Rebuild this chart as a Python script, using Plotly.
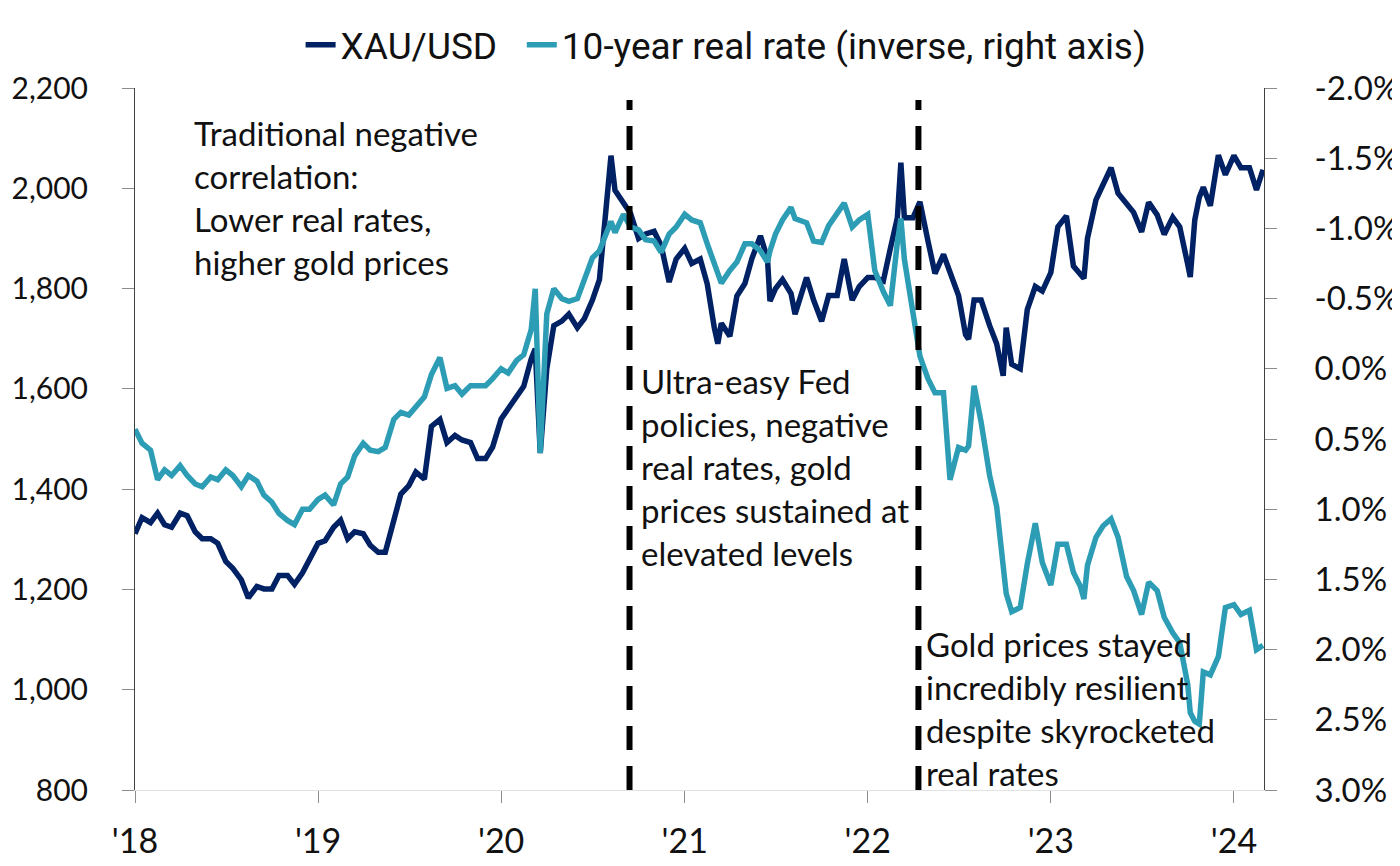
import plotly.graph_objects as go

# semi-monthly readings (plus a few turning points)
DATES = [
    "2018-01-01", "2018-01-15", "2018-02-01", "2018-02-15", "2018-03-01", "2018-03-15",
    "2018-04-01", "2018-04-15", "2018-05-01", "2018-05-15", "2018-06-01", "2018-06-15",
    "2018-07-01", "2018-07-15", "2018-08-01", "2018-08-15", "2018-09-01", "2018-09-15",
    "2018-10-01", "2018-10-15", "2018-11-01", "2018-11-15", "2018-12-01", "2018-12-15",
    "2019-01-01", "2019-01-15", "2019-02-01", "2019-02-15", "2019-03-01", "2019-03-15",
    "2019-04-01", "2019-04-15", "2019-05-01", "2019-05-15", "2019-06-01", "2019-06-15",
    "2019-07-01", "2019-07-15", "2019-08-01", "2019-08-15", "2019-09-01", "2019-09-15",
    "2019-10-01", "2019-10-15", "2019-11-01", "2019-11-15", "2019-12-01", "2019-12-15",
    "2020-01-01", "2020-01-15", "2020-02-01", "2020-02-15", "2020-03-01", "2020-03-09",
    "2020-03-19", "2020-04-01", "2020-04-15", "2020-05-01", "2020-05-15", "2020-06-01",
    "2020-06-15", "2020-07-01", "2020-07-15", "2020-08-01", "2020-08-07", "2020-08-15",
    "2020-09-01", "2020-09-15", "2020-10-01", "2020-10-15", "2020-11-01", "2020-11-15",
    "2020-12-01", "2020-12-15",
    "2021-01-01", "2021-01-15", "2021-02-01", "2021-02-15", "2021-03-01", "2021-03-08",
    "2021-03-15", "2021-04-01", "2021-04-15", "2021-05-01", "2021-05-15", "2021-06-01",
    "2021-06-15", "2021-06-20", "2021-07-01", "2021-07-15", "2021-08-01", "2021-08-09",
    "2021-08-15", "2021-09-01", "2021-09-15", "2021-10-01", "2021-10-15", "2021-11-01",
    "2021-11-15", "2021-12-01", "2021-12-15",
    "2022-01-01", "2022-01-15", "2022-02-01", "2022-02-15", "2022-03-01", "2022-03-08",
    "2022-03-15", "2022-04-01", "2022-04-15", "2022-05-01", "2022-05-15", "2022-06-01",
    "2022-06-14", "2022-07-01", "2022-07-15", "2022-07-21", "2022-08-01", "2022-08-15",
    "2022-09-01", "2022-09-15", "2022-09-28", "2022-10-04", "2022-10-15", "2022-11-01",
    "2022-11-15", "2022-12-01", "2022-12-15",
    "2023-01-01", "2023-01-15", "2023-02-01", "2023-02-15", "2023-03-01", "2023-03-08",
    "2023-03-15", "2023-04-01", "2023-04-15", "2023-05-01", "2023-05-15", "2023-06-01",
    "2023-06-15", "2023-07-01", "2023-07-15", "2023-08-01", "2023-08-15", "2023-09-01",
    "2023-09-15", "2023-10-01", "2023-10-06", "2023-10-15", "2023-10-24", "2023-11-01",
    "2023-11-15", "2023-12-01", "2023-12-15",
    "2024-01-01", "2024-01-15", "2024-02-01", "2024-02-15", "2024-02-28",
]

XAU_USD = [
    1311, 1343, 1333, 1352, 1329, 1324, 1352, 1347, 1315, 1301, 1301, 1292,
    1256, 1242, 1219, 1183, 1206, 1201, 1201, 1228, 1228, 1210, 1233, 1260,
    1292, 1297, 1324, 1338, 1301, 1315, 1311, 1288, 1274, 1274, 1338, 1390,
    1407, 1434, 1420, 1525, 1539, 1493, 1507, 1498, 1493, 1461, 1461, 1484,
    1540, 1560, 1587, 1605, 1660, 1680, 1472, 1640, 1726, 1735, 1749, 1722,
    1740, 1777, 1818, 1990, 2065, 1996, 1973, 1950, 1900, 1909, 1914, 1886,
    1813, 1859,
    1880, 1850, 1859, 1809, 1722, 1690, 1731, 1705, 1785, 1810, 1860, 1905,
    1860, 1775, 1800, 1818, 1790, 1749, 1768, 1822, 1777, 1735, 1786, 1786,
    1859, 1777, 1804,
    1822, 1822, 1815, 1880, 1941, 2051, 1941, 1941, 1973, 1895, 1830, 1868,
    1830, 1786, 1708, 1699, 1777, 1777, 1726, 1690, 1626, 1722, 1649, 1640,
    1758, 1804, 1795,
    1832, 1923, 1945, 1845, 1827, 1820, 1900, 1977, 2007, 2041, 1990, 1967,
    1952, 1913, 1972, 1947, 1908, 1942, 1923, 1848, 1823, 1937, 1982, 2002,
    1965, 2066, 2027,
    2065, 2041, 2041, 1997, 2037,
]

REAL_RATE = [
    0.43, 0.53, 0.58, 0.79, 0.72, 0.76, 0.69, 0.76, 0.82, 0.84, 0.77, 0.79,
    0.72, 0.76, 0.84, 0.76, 0.80, 0.90, 0.95, 1.03, 1.08, 1.11, 1.00, 1.00,
    0.93, 0.90, 0.97, 0.82, 0.77, 0.62, 0.53, 0.58, 0.59, 0.56, 0.36, 0.31,
    0.33, 0.27, 0.20, 0.04, -0.08, 0.14, 0.12, 0.18, 0.12, 0.12, 0.12, 0.07,
    0.00, 0.03, -0.06, -0.10, -0.28, -0.57, 0.60, -0.39, -0.57, -0.50, -0.48, -0.50,
    -0.63, -0.79, -0.84, -1.00, -1.05, -0.97, -1.10, -1.01, -0.99, -0.92, -0.91, -0.83,
    -0.96, -1.01,
    -1.10, -1.06, -1.04, -0.89, -0.75, -0.68, -0.61, -0.70, -0.76, -0.89, -0.89, -0.84,
    -0.76, -0.84, -0.96, -1.06, -1.15, -1.07, -1.06, -1.04, -0.91, -0.90, -1.02, -1.11,
    -1.18, -1.01, -1.06,
    -1.10, -0.70, -0.55, -0.45, -0.90, -1.07, -0.78, -0.42, -0.09, 0.07, 0.17, 0.17,
    0.79, 0.56, 0.58, 0.55, 0.12, 0.38, 0.76, 0.98, 1.41, 1.60, 1.73, 1.70,
    1.39, 1.10, 1.38,
    1.54, 1.25, 1.25, 1.45, 1.55, 1.64, 1.40, 1.20, 1.12, 1.07, 1.20, 1.48,
    1.58, 1.75, 1.52, 1.58, 1.77, 1.88, 1.95, 2.25, 2.45, 2.51, 2.53, 2.16,
    2.18, 2.05, 1.70,
    1.68, 1.75, 1.72, 2.00, 1.97,
]

REGIME_BREAKS = ["2020-09-13", "2022-04-12"]

YEAR_TICKS = ["2018-01-01", "2019-01-01", "2020-01-01", "2021-01-01",
              "2022-01-01", "2023-01-01", "2024-01-01"]
YEAR_LABELS = ["'18", "'19", "'20", "'21", "'22", "'23", "'24"]
GOLD_TICKS = [800, 1000, 1200, 1400, 1600, 1800, 2000, 2200]
RATE_TICKS = [-2.0, -1.5, -1.0, -0.5, 0.0, 0.5, 1.0, 1.5, 2.0, 2.5, 3.0]
RATE_LABELS = [f"{v:.1f}%" for v in RATE_TICKS]

NOTES = [
    "Traditional negative<br>correlation:<br>Lower real rates,<br>higher gold prices",
    "Ultra-easy Fed<br>policies, negative<br>real rates, gold<br>prices sustained at<br>elevated levels",
    "Gold prices stayed<br>incredibly resilient<br>despite skyrocketed<br>real rates",
]

NAVY = "#002163"
TEAL = "#2d9db5"
TICK_FONT = dict(family="Lato, 'Noto Sans', sans-serif", size=33, color="#111111")
NOTE_FONT = dict(family="Lato, 'Noto Sans', sans-serif", size=33, color="#111111")
LEGEND_FONT = dict(family="Roboto, 'Liberation Sans', sans-serif", size=37,
                   color="#111111")

traces = [
    go.Scatter(
        x=DATES,
        y=XAU_USD,
        mode="lines",
        name="XAU/USD",
        line=dict(color=NAVY, width=5.5),
        legend="legend",
    ),
    go.Scatter(
        x=DATES,
        y=REAL_RATE,
        mode="lines",
        name="10-year real rate (inverse, right axis)",
        line=dict(color=TEAL, width=5.5),
        yaxis="y2",
        legend="legend2",
    ),
]

axis_common = dict(
    showgrid=False,
    zeroline=False,
    showline=True,
    automargin=False,
    ticks="outside",
    ticklen=12,
    tickcolor="#8c8c8c",
    tickfont=TICK_FONT,
)

legend_common = dict(
    orientation="h",
    xref="container",
    yref="container",
    xanchor="left",
    y=0.957,
    yanchor="middle",
    font=LEGEND_FONT,
    itemwidth=30,
    bgcolor="rgba(0,0,0,0)",
)

# the page body adds an 8px offset, margins are set against that
layout = {
    "width": 1400,
    "height": 866,
    "margin": dict(l=127, r=144, t=80, b=84),
    "paper_bgcolor": "white",
    "plot_bgcolor": "white",
    "xaxis": dict(
        axis_common,
        type="date",
        range=["2018-01-01", "2024-03-01"],
        tickvals=YEAR_TICKS,
        ticktext=YEAR_LABELS,
        linecolor="#e3e3e3",
        ticklabelstandoff=9,
        tickfont=dict(TICK_FONT, size=34),
    ),
    "yaxis": dict(
        axis_common,
        range=[800, 2200],
        tickvals=GOLD_TICKS,
        tickformat=",",
        linecolor="#404040",
        ticklabelstandoff=28,
        tickfont=dict(TICK_FONT, size=30),
    ),
    "yaxis2": dict(
        axis_common,
        overlaying="y",
        side="right",
        range=[3.0, -2.0],
        tickvals=RATE_TICKS,
        ticktext=RATE_LABELS,
        linecolor="#404040",
        ticklabelstandoff=31,
    ),
    "legend": dict(legend_common, x=0.209),
    "legend2": dict(legend_common, x=0.367),
    "showlegend": True,
    "shapes": [
        dict(
            type="line",
            xref="x",
            yref="paper",
            x0=d,
            x1=d,
            y0=0,
            y1=0.983,
            line=dict(color="black", width=6, dash="24px,16px"),
        )
        for d in REGIME_BREAKS
    ],
    "annotations": [
        dict(text=NOTES[0], x=0.0505, y=0.967),
        dict(text=NOTES[1], x=0.446, y=0.614),
        dict(text=NOTES[2], x=0.699, y=0.240),
    ],
}

for a in layout["annotations"]:
    a.update(xref="paper", yref="paper", xanchor="left", yanchor="top",
             align="left", showarrow=False, font=NOTE_FONT)

fig = go.Figure(traces, layout)
fig.write_html("out.html")
